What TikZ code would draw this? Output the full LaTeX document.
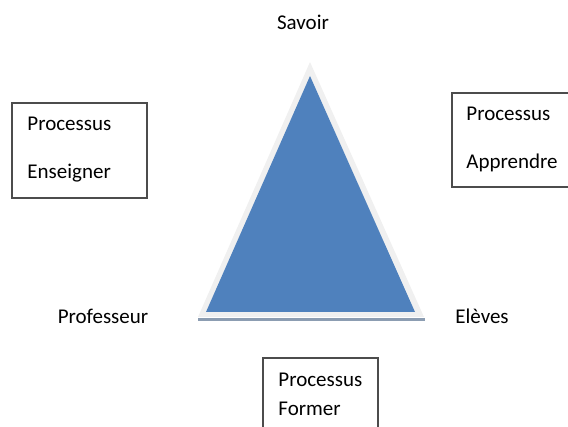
\documentclass[tikz,border=0pt]{standalone}
\usepackage{fontspec}
\setmainfont{Carlito}

\tikzset{
  boite/.style={draw=black!70, line width=0.6pt},
  mot/.style={anchor=west, inner sep=0pt, font=\fontsize{10.5}{12}\selectfont},
  pole/.style={inner sep=0pt, font=\fontsize{10.5}{12}\selectfont}
}
\definecolor{bleutri}{HTML}{4F81BD}
\definecolor{ombretri}{HTML}{8C9DB2}

\begin{document}
\begin{tikzpicture}[x=0.5pt,y=-0.5pt]
\useasboundingbox (0,0) rectangle (568,427);

% triangle and its border
\draw[ombretri, line width=1.2pt] (198,319.5) -- (425,319.5);
\fill[black!6] (310,62) -- (198,317) -- (424,317) -- cycle;
\fill[bleutri] (310,76) -- (206,312) -- (415,312) -- cycle;

\node[pole] (savoir) at (303,22) {Savoir};
\node[pole] (prof) at (103,316) {Professeur};
\node[pole] (eleves) at (482,316) {Elèves};

% boxes
\draw[boite] (12,103) rectangle (147,198);
\node[mot] (ens1) at (27,124) {Processus};
\node[mot] (ens2) at (27,173) {Enseigner};

\draw[boite] (570,93) -- (452,93) -- (452,187) -- (570,187);
\node[mot] (app1) at (466,114) {Processus};
\node[mot] (app2) at (466,163) {Apprendre};

\draw[boite] (263,430) -- (263,358) -- (378,358) -- (378,430);
\node[mot] (for1) at (278,380) {Processus};
\node[mot] (for2) at (278,409) {Former};

\end{tikzpicture}
\end{document}
